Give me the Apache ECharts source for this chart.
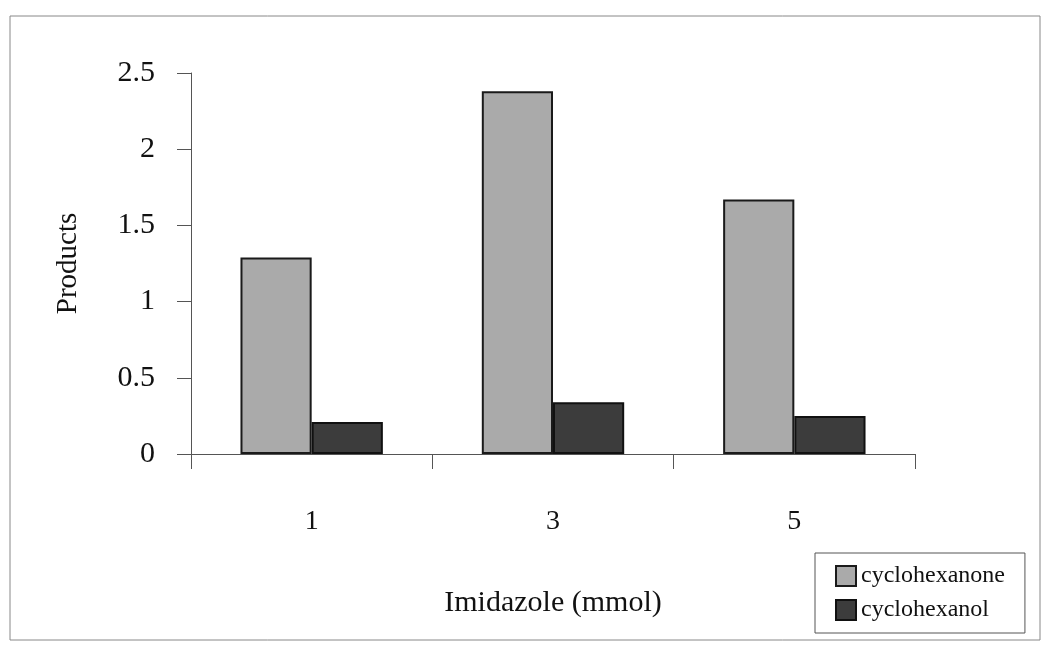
<!DOCTYPE html>
<html>
<head>
    <meta charset="utf-8">
    <script src="https://cdn.jsdelivr.net/npm/echarts@6/dist/echarts.min.js"></script>
</head>
<body style="margin:0">
<div id="main" style="width: 1049px;height:650px;"></div>
<script type="text/javascript">
    var categories = ['1', '3', '5'];
    var cyclohexanone = [1.29, 2.38, 1.67];
    var cyclohexanol = [0.21, 0.34, 0.25];

    var font = '"Liberation Serif", "Times New Roman", serif';
    var myChart = echarts.init(document.getElementById('main'));

    var option = {
        backgroundColor: '#fff',
        animation: false,
        graphic: [{
            type: 'rect',
            shape: { x: 10, y: 16, width: 1030, height: 624 },
            style: { fill: 'none', stroke: '#888', lineWidth: 1 }
        }],
        grid: { left: 191, right: 134, top: 73, bottom: 196 },
        legend: {
            orient: 'vertical',
            left: 815,
            top: 553,
            padding: [11, 20, 11, 20],
            itemGap: 10,
            itemWidth: 20,
            itemHeight: 20,
            borderColor: '#555',
            borderWidth: 1,
            textStyle: { fontFamily: font, fontSize: 24, color: '#111' },
            data: [
                { name: 'cyclohexanone', icon: 'rect' },
                { name: 'cyclohexanol', icon: 'rect' }
            ]
        },
        xAxis: {
            type: 'category',
            data: categories,
            name: 'Imidazole (mmol)',
            nameLocation: 'middle',
            nameGap: 134,
            nameTextStyle: { fontFamily: font, fontSize: 30, color: '#111' },
            axisLine: { lineStyle: { color: '#555', width: 1 } },
            axisTick: { show: true, length: 15, lineStyle: { color: '#555' } },
            axisLabel: { fontFamily: font, fontSize: 28, color: '#111', margin: 54 }
        },
        yAxis: {
            type: 'value',
            min: 0,
            max: 2.5,
            interval: 0.5,
            name: 'Products',
            nameLocation: 'middle',
            nameGap: 108,
            nameRotate: 90,
            nameTextStyle: { fontFamily: font, fontSize: 29, color: '#111' },
            axisLine: { show: true, lineStyle: { color: '#555', width: 1 } },
            axisTick: { show: true, length: 14, lineStyle: { color: '#555' } },
            axisLabel: { fontFamily: font, fontSize: 30, color: '#111', margin: 36 },
            splitLine: { show: false }
        },
        series: [{
            name: 'cyclohexanone',
            type: 'bar',
            data: cyclohexanone,
            barGap: '0%',
            barCategoryGap: '41%',
            itemStyle: { color: '#aaaaaa', borderColor: '#1a1a1a', borderWidth: 2 }
        }, {
            name: 'cyclohexanol',
            type: 'bar',
            data: cyclohexanol,
            itemStyle: { color: '#3c3c3c', borderColor: '#111', borderWidth: 2 }
        }]
    };
    myChart.setOption(option);
</script>
</body>
</html>
